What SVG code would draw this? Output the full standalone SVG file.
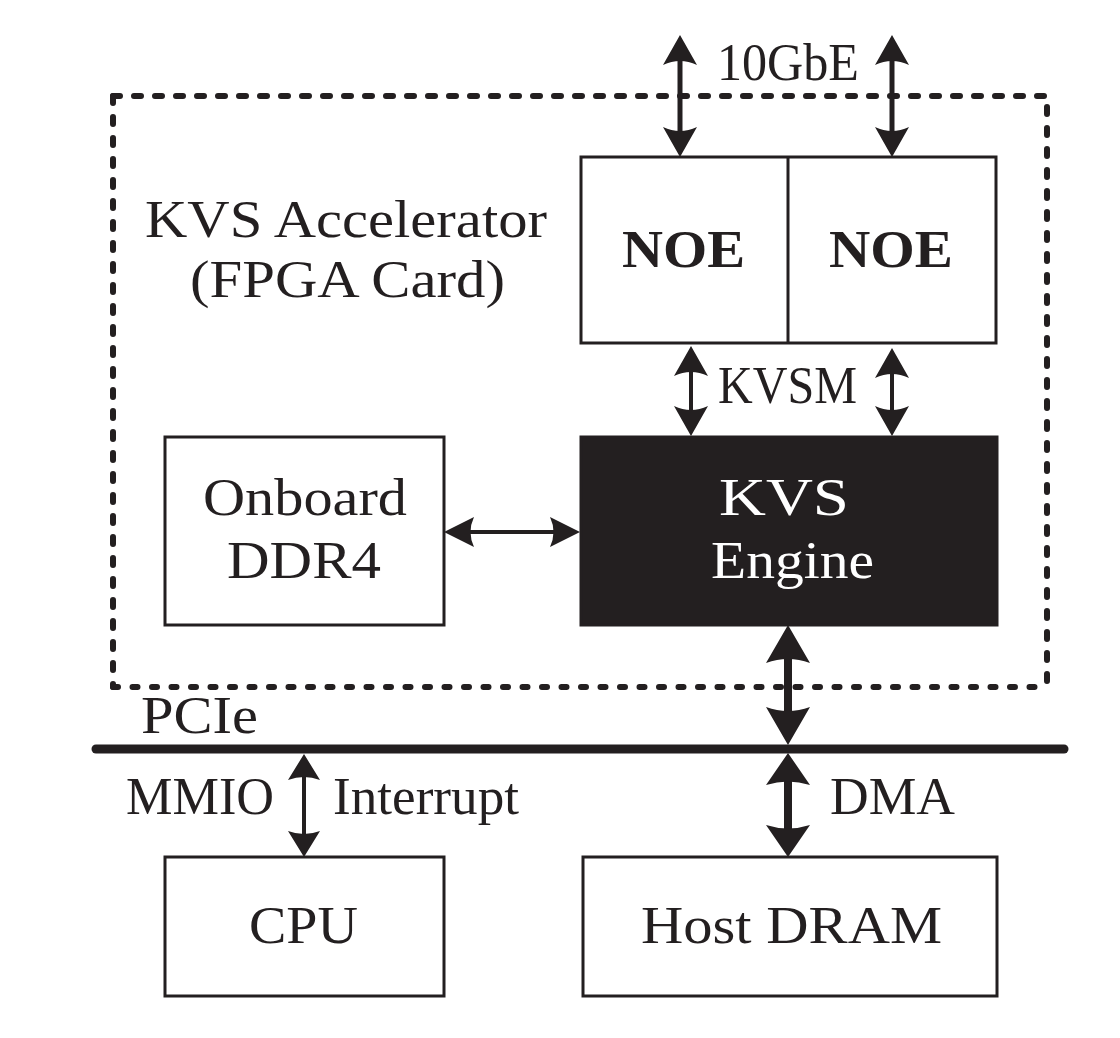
<svg xmlns="http://www.w3.org/2000/svg" xmlns:xlink="http://www.w3.org/1999/xlink" width="1120" height="1038" viewBox="0 0 1120 1038">
<style>
  .t { font-family: "Liberation Serif", "Times New Roman", serif; font-size: 52px; fill: #231f20; }
  .b { font-weight: bold; font-size: 53px; }
  .w { fill: #ffffff; }
  .box { fill: #ffffff; stroke: #231f20; stroke-width: 3; }
  .dark { fill: #231f20; stroke: #231f20; stroke-width: 3; }
  .dash { fill: none; stroke: #231f20; stroke-width: 6; stroke-linecap: round; stroke-dasharray: 7 14; }
  .shaft { stroke: #231f20; fill: none; }
  .head { fill: #231f20; }
</style>
<defs>
  <path id="hS" d="M0,0 L17,30 Q0,22 -17,30 Z"/>
  <path id="hM" d="M0,0 L15,30 Q0,23 -15,30 Z"/>
  <path id="hL" d="M0,0 L22,38 Q0,30 -22,38 Z"/>
  <path id="hD" d="M0,0 L22,32 Q0,25 -22,32 Z"/>
  <path id="hT" d="M0,0 L16,26 Q0,20 -16,26 Z"/>
</defs>

<g id="accelerator">
  <path class="dash" d="M113,96 H1047 V687"/>
  <path class="dash" d="M113,96 V687" />
  <path class="dash" style="stroke-dasharray: 5 14.5" d="M113,687 H1047"/>
  <text class="t" x="145" y="237" textLength="402" lengthAdjust="spacingAndGlyphs">KVS Accelerator</text>
  <text class="t" x="190" y="297" textLength="315" lengthAdjust="spacingAndGlyphs">(FPGA Card)</text>
</g>

<g id="noe">
  <rect class="box" x="581" y="157" width="415" height="186"/>
  <line x1="788" y1="157" x2="788" y2="343" stroke="#231f20" stroke-width="3"/>
  <text class="t b" x="622" y="267" textLength="123" lengthAdjust="spacingAndGlyphs">NOE</text>
  <text class="t b" x="829" y="267" textLength="124" lengthAdjust="spacingAndGlyphs">NOE</text>
</g>

<g id="ddr4">
  <rect class="box" x="165" y="437" width="279" height="188"/>
  <text class="t" x="203" y="515" textLength="204" lengthAdjust="spacingAndGlyphs">Onboard</text>
  <text class="t" x="227" y="578" textLength="154" lengthAdjust="spacingAndGlyphs">DDR4</text>
</g>

<g id="kvs-engine">
  <rect class="dark" x="581" y="437" width="416" height="188"/>
  <text class="t w" x="719" y="515" textLength="130" lengthAdjust="spacingAndGlyphs">KVS</text>
  <text class="t w" x="711" y="578" textLength="163" lengthAdjust="spacingAndGlyphs">Engine</text>
</g>

<g id="pcie">
  <line x1="96" y1="749" x2="1064" y2="749" stroke="#231f20" stroke-width="9" stroke-linecap="round"/>
  <text class="t" x="141" y="733" textLength="117" lengthAdjust="spacingAndGlyphs">PCIe</text>
</g>

<g id="cpu">
  <rect class="box" x="165" y="857" width="279" height="139"/>
  <text class="t" x="249" y="943" textLength="109" lengthAdjust="spacingAndGlyphs">CPU</text>
</g>

<g id="host-dram">
  <rect class="box" x="583" y="857" width="414" height="139"/>
  <text class="t" x="641" y="943" textLength="301" lengthAdjust="spacingAndGlyphs">Host DRAM</text>
</g>

<g id="connectors">
  <!-- 10GbE -->
  <line class="shaft" x1="680" y1="55" x2="680" y2="137" stroke-width="5"/>
  <use xlink:href="#hS" class="head" transform="translate(680,35)"/>
  <use xlink:href="#hS" class="head" transform="translate(680,157) rotate(180)"/>
  <line class="shaft" x1="892" y1="55" x2="892" y2="137" stroke-width="5"/>
  <use xlink:href="#hS" class="head" transform="translate(892,35)"/>
  <use xlink:href="#hS" class="head" transform="translate(892,157) rotate(180)"/>
  <text class="t" x="717" y="80" textLength="142" lengthAdjust="spacingAndGlyphs">10GbE</text>

  <!-- KVSM -->
  <line class="shaft" x1="691" y1="367" x2="691" y2="415" stroke-width="4"/>
  <use xlink:href="#hS" class="head" transform="translate(691,346)"/>
  <use xlink:href="#hS" class="head" transform="translate(691,436) rotate(180)"/>
  <line class="shaft" x1="892" y1="367" x2="892" y2="415" stroke-width="4"/>
  <use xlink:href="#hS" class="head" transform="translate(892,348)"/>
  <use xlink:href="#hS" class="head" transform="translate(892,436) rotate(180)"/>
  <text class="t" x="718" y="403" textLength="139" lengthAdjust="spacingAndGlyphs">KVSM</text>

  <!-- DDR4 <-> Engine -->
  <line class="shaft" x1="465" y1="532" x2="558" y2="532" stroke-width="4"/>
  <use xlink:href="#hM" class="head" transform="translate(444,532) rotate(-90)"/>
  <use xlink:href="#hM" class="head" transform="translate(580,532) rotate(90)"/>

  <!-- Engine <-> PCIe -->
  <line class="shaft" x1="788" y1="650" x2="788" y2="720" stroke-width="8"/>
  <use xlink:href="#hL" class="head" transform="translate(788,625)"/>
  <use xlink:href="#hL" class="head" transform="translate(788,745) rotate(180)"/>

  <!-- PCIe <-> Host DRAM (DMA) -->
  <line class="shaft" x1="788" y1="775" x2="788" y2="835" stroke-width="8"/>
  <use xlink:href="#hD" class="head" transform="translate(788,753)"/>
  <use xlink:href="#hD" class="head" transform="translate(788,857) rotate(180)"/>
  <text class="t" x="830" y="814" textLength="125" lengthAdjust="spacingAndGlyphs">DMA</text>

  <!-- PCIe <-> CPU -->
  <line class="shaft" x1="304" y1="772" x2="304" y2="839" stroke-width="4"/>
  <use xlink:href="#hT" class="head" transform="translate(304,754)"/>
  <use xlink:href="#hT" class="head" transform="translate(304,857) rotate(180)"/>
  <text class="t" x="126" y="814" textLength="148" lengthAdjust="spacingAndGlyphs">MMIO</text>
  <text class="t" x="333" y="814" textLength="186" lengthAdjust="spacingAndGlyphs">Interrupt</text>
</g>
</svg>
